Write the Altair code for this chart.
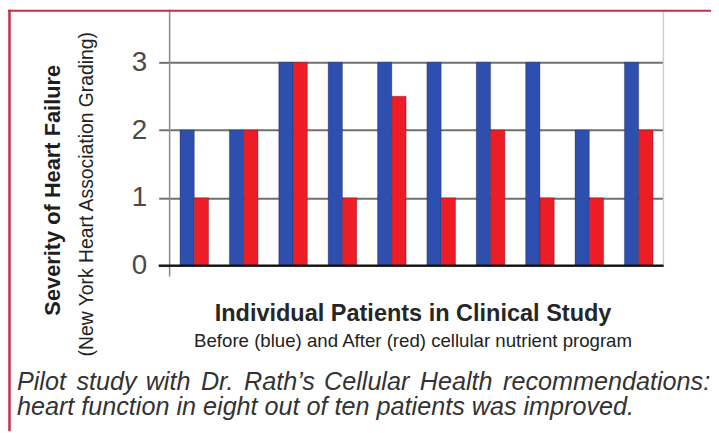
import altair as alt
import pandas as pd

# ---- data ----
patients = [1, 2, 3, 4, 5, 6, 7, 8, 9, 10]
before = [2, 2, 3, 3, 3, 3, 3, 3, 2, 3]
after = [1, 2, 3, 1, 2.5, 1, 2, 1, 1, 2]
phases = ["Before", "After"]
y_ticks = [0, 1, 2, 3]

y_title = "Severity of Heart Failure"
y_subtitle = "(New York Heart Association Grading)"
x_title = "Individual Patients in Clinical Study"
x_subtitle = "Before (blue) and After (red) cellular nutrient program"
caption_words_1 = ["Pilot", "study", "with", "Dr.", "Rath\u2019s", "Cellular", "Health", "recommendations:"]
caption_2 = "heart function in eight out of ten patients was improved."

FONT = "Liberation Sans"
W, H = 498, 258

rows = []
for p, b, a in zip(patients, before, after):
    rows.append({"patient": p, "phase": "Before", "value": b})
    rows.append({"patient": p, "phase": "After", "value": a})
df = pd.DataFrame(rows)

yscale = alt.Scale(domain=[0, 3.776], nice=False, zero=True)

bars = alt.Chart(df).mark_bar(stroke="#1a1a3a", strokeWidth=0.6, strokeOpacity=0.5).encode(
    x=alt.X("patient:O", axis=None, scale=alt.Scale(paddingInner=0.42, paddingOuter=0.21)),
    xOffset=alt.XOffset("phase:N", sort=phases,
                        scale=alt.Scale(domain=phases, paddingInner=0, paddingOuter=0)),
    y=alt.Y("value:Q", scale=yscale,
            axis=alt.Axis(values=y_ticks, format="d", title=None, grid=True, gridColor="#707070", gridWidth=2,
                          domain=False, ticks=True, tickSize=11, tickColor="#707070", tickWidth=2,
                          labelFont=FONT, labelFontSize=28, labelColor="#4a4a4a", labelPadding=12)),
    color=alt.Color("phase:N", scale=alt.Scale(domain=phases, range=["#2F4FAE", "#EE1D25"]), legend=None),
)

base_df = pd.DataFrame({"v": [0]})

# x baseline (black) at value 0
baseline = alt.Chart(base_df).mark_rule(color="#111111", strokeWidth=2.5).encode(
    x=alt.value(-11), x2=alt.value(W), y=alt.Y("v:Q", scale=yscale))

# y axis vertical line
yline = alt.Chart(base_df).mark_rule(color="#8a8a8a", strokeWidth=1.5).encode(
    x=alt.value(0), y=alt.value(0), y2=alt.value(H + 11))

# right light gray line
rline = alt.Chart(base_df).mark_rule(color="#cfcfcf", strokeWidth=1.5).encode(
    x=alt.value(W), y=alt.value(0), y2=alt.value(H))

# red frame (top and left)
top_border = alt.Chart(base_df).mark_rule(color="#C0304A", strokeWidth=2).encode(
    x=alt.value(-163), x2=alt.value(W + 48), y=alt.value(1))
left_border = alt.Chart(base_df).mark_rule(color="#C0304A", strokeWidth=2.5).encode(
    x=alt.value(-161.5), y=alt.value(0), y2=alt.value(H + 167))


def text_layer(txt, x, y, size, weight="normal", style="normal", angle=0, align="center",
               color="#222222", baseline="alphabetic"):
    return alt.Chart(pd.DataFrame({"t": [txt]})).mark_text(
        font=FONT, fontSize=size, fontWeight=weight, fontStyle=style, angle=angle,
        align=align, baseline=baseline, color=color,
    ).encode(text="t:N", x=alt.value(x), y=alt.value(y))


# justified first caption line: slightly widened word gaps
gaps = ["\u2004\u200a", " \u200a", "\u2004\u200a", "\u2004\u200a", " \u200a", "\u2004\u200a", "\u2004\u200a"]
cap1_text = caption_words_1[0] + "".join(g + w for g, w in zip(gaps, caption_words_1[1:]))

t_y1 = text_layer(y_title, -118, 182, 22, weight="bold", angle=270, baseline="middle", color="#1e1e1e")
t_y2 = text_layer(y_subtitle, -83, 186, 19.5, angle=270, baseline="middle", color="#222222")
t_x1 = text_layer(x_title, 245.5, 314, 23.7, weight="bold", color="#262626")
t_x2 = text_layer(x_subtitle, 245.5, 340, 18.8, color="#222222")
cap1 = text_layer(cap1_text, -154, 383, 25.4, style="italic", align="left", color="#333333")
cap2 = text_layer(caption_2, -154, 409, 25.4, style="italic", align="left", color="#333333")

chart = alt.layer(
    bars, rline, yline, baseline, top_border, left_border,
    t_y1, t_y2, t_x1, t_x2, cap1, cap2,
).properties(
    width=W, height=H,
    autosize=alt.AutoSizeParams(type="none"),
    padding={"left": 163, "top": 0, "right": 48, "bottom": 167},
    background="white",
).configure_view(stroke=None)

chart.save("out.html", embed_options={"renderer": "svg", "actions": False})
